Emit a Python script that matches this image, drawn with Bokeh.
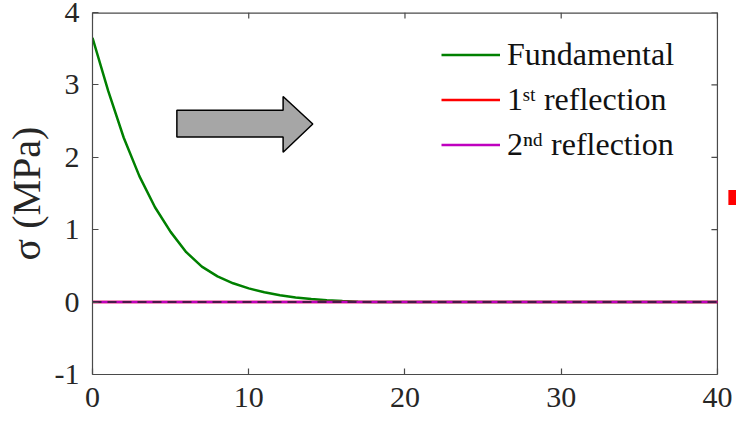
from bokeh.plotting import figure
from bokeh.models import Legend, LegendItem, FixedTicker, Range1d
from bokeh.embed import file_html
from bokeh.resources import INLINE

# ---- data ----
distance = [0, 1, 2, 3, 4, 5, 6, 7, 8, 9, 10, 11, 12, 13, 14, 15, 16, 17, 18, 40]
fundamental = [3.65, 2.92, 2.27, 1.74, 1.31, 0.97, 0.69, 0.49, 0.355, 0.26, 0.19,
               0.135, 0.095, 0.065, 0.042, 0.026, 0.014, 0.006, 0.0, 0.0]
zero_x = [0, 40]
first_reflection = [0, 0]
second_reflection = [0, 0]
baseline = [0, 0]
x_ticks = [0, 10, 20, 30, 40]
y_ticks = [-1, 0, 1, 2, 3, 4]
labels = ["Fundamental", "1\u02e2\u1d57 reflection", "2\u207f\u1d48 reflection"]
colors = ["#008000", "#ff0000", "#bf00bf"]
arrow_x = [5.4, 12.2, 12.2, 14.1, 12.2, 12.2, 5.4]
arrow_y = [2.28, 2.28, 2.07, 2.46, 2.84, 2.65, 2.65]
mark_left, mark_right = 40.7, 41.4
mark_bottom, mark_top = 1.34, 1.55

FONT = "Liberation Serif"
AX = "#4a4a4a"
X0, X1, Y0, Y1 = 0, 40, -1, 4
TICK_X = 0.384   # 6 px in x data units
TICK_Y = 0.083   # 6 px in y data units

p = figure(width=736, height=421, x_range=Range1d(0, 41.22), y_range=Range1d(Y0, Y1),
           output_backend="svg", toolbar_location=None,
           min_border_left=92, min_border_right=0, min_border_top=12, min_border_bottom=47)
p.xgrid.visible = False
p.ygrid.visible = False
p.outline_line_color = None
p.background_fill_color = "white"
p.border_fill_color = "white"

for ax, ticks in ((p.xaxis[0], x_ticks), (p.yaxis[0], y_ticks)):
    ax.ticker = FixedTicker(ticks=ticks)
    ax.axis_line_color = AX
    ax.axis_line_width = 1.2
    ax.major_tick_line_color = AX
    ax.major_tick_line_width = 1.2
    ax.major_tick_in = 6
    ax.major_tick_out = 0
    ax.minor_tick_line_color = None
    ax.major_label_text_font = FONT
    ax.major_label_text_color = "#262626"
    ax.major_label_text_font_size = "30px"
p.xaxis[0].bounds = (X0, X1)

p.yaxis[0].major_label_overrides = {-1: "-1"}
p.xaxis[0].major_label_standoff = 13
p.yaxis[0].major_label_standoff = 13
p.yaxis[0].axis_label = "\u03c3 (MPa)"
p.yaxis[0].axis_label_text_font = FONT
p.yaxis[0].axis_label_text_font_style = "normal"
p.yaxis[0].axis_label_text_font_size = "40px"
p.yaxis[0].axis_label_text_color = "#262626"
p.yaxis[0].axis_label_standoff = 3

# box: top and right edges with inward ticks
p.segment(x0=[X0], y0=[Y1], x1=[X1], y1=[Y1], line_color=AX, line_width=2.4)
p.segment(x0=[X1], y0=[Y0], x1=[X1], y1=[Y1], line_color=AX, line_width=1.2)
p.segment(x0=x_ticks, y0=[Y1] * len(x_ticks), x1=x_ticks,
          y1=[Y1 - TICK_Y] * len(x_ticks), line_color=AX, line_width=1.2)
p.segment(x0=[X1 - TICK_X] * len(y_ticks), y0=y_ticks, x1=[X1] * len(y_ticks),
          y1=y_ticks, line_color=AX, line_width=1.2)

p.patch(arrow_x, arrow_y, fill_color="#a6a6a6", line_color="black", line_width=1.5)

r_f = p.line(distance, fundamental, line_color=colors[0], line_width=2.5)
r_1 = p.line(zero_x, first_reflection, line_color=colors[1], line_width=2.5)
r_2 = p.line(zero_x, second_reflection, line_color=colors[2], line_width=2.5)
p.line(zero_x, baseline, line_color="#222222", line_width=1.5, line_dash="9 6")

p.quad(left=[mark_left], right=[mark_right], bottom=[mark_bottom], top=[mark_top],
       fill_color="#ff0000", line_color=None)

legend = Legend(items=[LegendItem(label=labels[0], renderers=[r_f]),
                       LegendItem(label=labels[1], renderers=[r_1]),
                       LegendItem(label=labels[2], renderers=[r_2])],
                location=(349, 207), border_line_color=None, background_fill_alpha=0,
                padding=0, margin=0, spacing=0, glyph_width=59, glyph_height=45,
                label_height=45, label_standoff=7, label_text_font=FONT,
                label_text_font_size="32px", label_text_color="#111111")
p.add_layout(legend)

open("out.html", "w").write(file_html(p, INLINE))
